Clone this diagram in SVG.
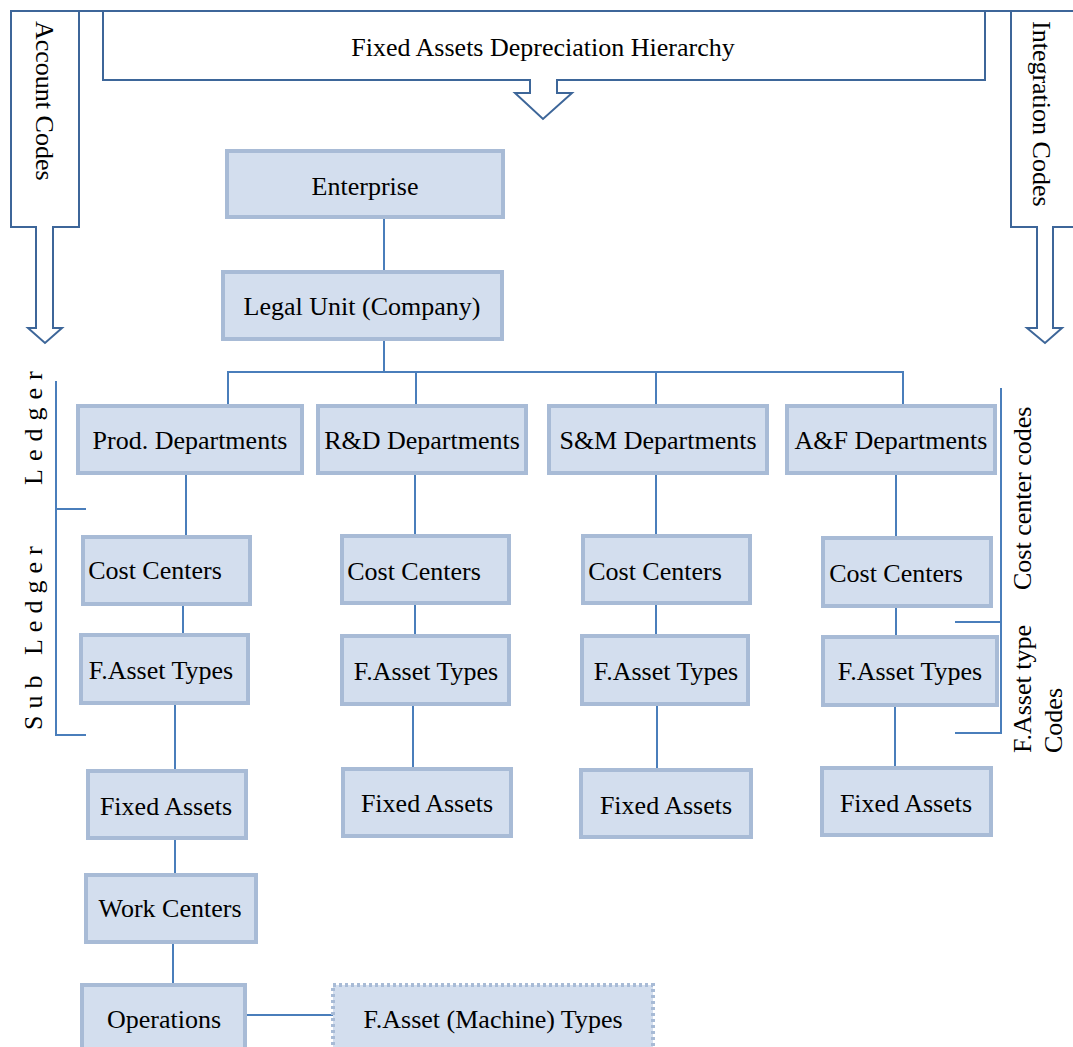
<svg xmlns="http://www.w3.org/2000/svg" width="1073" height="1047" viewBox="0 0 1073 1047">
  <style>
    .box { fill: #D3DEEE; stroke: #A8BBD6; stroke-width: 4; }
    .dotted { stroke-dasharray: 3 3; }
    .t { font-family: "Liberation Serif", "Times New Roman", serif; font-size: 26px; fill: #000; }
    .c { text-anchor: middle; }
    .conn { stroke: #4A7EBB; stroke-width: 2; fill: none; }
    .frame { stroke: #3D6699; stroke-width: 2; fill: #fff; }
  </style>

  <rect width="1073" height="1047" fill="#fff"/>

  <!-- header frame: account codes, title banner and integration codes block arrows -->
  <g id="header">
    <path class="frame" d="M11,11 V227 H36 V328 H28 L45,343 L62,328 H53 V227 H79 V11 Z"/>
    <path class="frame" d="M103,11 V80 H530 V93 H515 L543,119 L572,93 H557 V80 H985 V11 Z"/>
    <path class="frame" d="M1011,11 V227 H1037 V328 H1027 L1045,343 L1062,328 H1053 V227 H1075 V11 Z"/>
    <line x1="10" y1="11" x2="1073" y2="11" stroke="#3D6699" stroke-width="2"/>
    <text class="t c" x="543" y="56">Fixed Assets Depreciation Hierarchy</text>
    <text class="t" transform="translate(36,21) rotate(90)">Account Codes</text>
    <text class="t" transform="translate(1033,21) rotate(90)">Integration Codes</text>
  </g>

  <!-- side labels and brackets -->
  <g id="side-labels">
    <text class="t" transform="translate(42,485) rotate(-90)" letter-spacing="8">Ledger</text>
    <text class="t" transform="translate(42,730) rotate(-90)" letter-spacing="7">Sub Ledger</text>
    <text class="t" transform="translate(1031,590) rotate(-90)">Cost center codes</text>
    <text class="t" transform="translate(1031,753) rotate(-90)">F.Asset type</text>
    <text class="t" transform="translate(1062,753) rotate(-90)">Codes</text>
  </g>

  <g id="connectors">
    <path class="conn" d="M56,381 V735 H86 M56,509 H86"/>
    <path class="conn" d="M1001,388 V733 H955 M1001,622 H955"/>
    <path class="conn" d="M384,219 V272"/>
    <path class="conn" d="M384,339 V372 M228,406 V372 H903 V406 M416,372 V406 M656,372 V406"/>
    <path class="conn" d="M186,473 V537 M183,604 V635 M175,703 V771 M175,838 V875 M173,942 V985 M245,1015 H333"/>
    <path class="conn" d="M415,473 V536 M415,603 V636 M413,704 V769"/>
    <path class="conn" d="M656,473 V536 M656,603 V636 M657,704 V770"/>
    <path class="conn" d="M896,473 V538 M896,606 V637 M895,705 V768"/>
  </g>

  <g id="enterprise"><rect class="box" x="227" y="151" width="276" height="66"/><text class="t c" x="365" y="195">Enterprise</text></g>
  <g id="legal-unit"><rect class="box" x="223" y="272" width="279" height="67"/><text class="t c" x="362" y="315">Legal Unit (Company)</text></g>

  <g id="prod-departments"><rect class="box" x="78" y="406" width="224" height="67"/><text class="t c" x="190" y="449">Prod. Departments</text></g>
  <g id="rd-departments"><rect class="box" x="318" y="406" width="208" height="67"/><text class="t c" x="422" y="449">R&amp;D Departments</text></g>
  <g id="sm-departments"><rect class="box" x="549" y="406" width="218" height="67"/><text class="t c" x="658" y="449">S&amp;M Departments</text></g>
  <g id="af-departments"><rect class="box" x="787" y="406" width="208" height="67"/><text class="t c" x="891" y="449">A&amp;F Departments</text></g>

  <g id="cost-centers-1"><rect class="box" x="83" y="537" width="167" height="67"/><text class="t c" x="155" y="579">Cost Centers</text></g>
  <g id="cost-centers-2"><rect class="box" x="342" y="536" width="167" height="67"/><text class="t c" x="414" y="580">Cost Centers</text></g>
  <g id="cost-centers-3"><rect class="box" x="583" y="536" width="167" height="67"/><text class="t c" x="655" y="580">Cost Centers</text></g>
  <g id="cost-centers-4"><rect class="box" x="823" y="538" width="168" height="68"/><text class="t c" x="896" y="582">Cost Centers</text></g>

  <g id="asset-types-1"><rect class="box" x="81" y="635" width="167" height="68"/><text class="t c" x="161" y="679">F.Asset Types</text></g>
  <g id="asset-types-2"><rect class="box" x="342" y="636" width="167" height="68"/><text class="t c" x="426" y="680">F.Asset Types</text></g>
  <g id="asset-types-3"><rect class="box" x="582" y="636" width="166" height="68"/><text class="t c" x="666" y="680">F.Asset Types</text></g>
  <g id="asset-types-4"><rect class="box" x="823" y="637" width="174" height="68"/><text class="t c" x="910" y="680">F.Asset Types</text></g>

  <g id="fixed-assets-1"><rect class="box" x="88" y="771" width="158" height="67"/><text class="t c" x="166" y="815">Fixed Assets</text></g>
  <g id="fixed-assets-2"><rect class="box" x="343" y="769" width="168" height="67"/><text class="t c" x="427" y="812">Fixed Assets</text></g>
  <g id="fixed-assets-3"><rect class="box" x="581" y="770" width="170" height="67"/><text class="t c" x="666" y="814">Fixed Assets</text></g>
  <g id="fixed-assets-4"><rect class="box" x="822" y="768" width="169" height="67"/><text class="t c" x="906" y="812">Fixed Assets</text></g>

  <g id="work-centers"><rect class="box" x="86" y="875" width="170" height="67"/><text class="t c" x="170" y="917">Work Centers</text></g>
  <g id="operations"><rect class="box" x="82" y="985" width="163" height="70"/><text class="t c" x="164" y="1028">Operations</text></g>
  <g id="machine-types"><rect class="box dotted" x="333" y="985" width="320" height="70"/><text class="t c" x="493" y="1028">F.Asset (Machine) Types</text></g>
</svg>
